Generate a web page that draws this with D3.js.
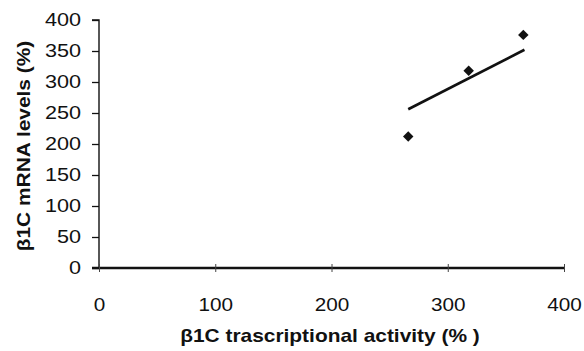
<!DOCTYPE html>
<html><head><meta charset="utf-8">
<script src="https://cdn.jsdelivr.net/npm/d3@7"></script>
<style>body{margin:0;background:#fff}svg{display:block}</style>
</head><body>
<svg id="c" width="584" height="351"></svg>
<script>
const xVals = [266, 318, 365];
const yVals = [212, 318, 376];
const trendX = [266, 366];
const trendY = [256, 352];
const xTicks = [0, 100, 200, 300, 400];
const yTicks = [0, 50, 100, 150, 200, 250, 300, 350, 400];
const xTitle = "β1C trascriptional activity (% )";
const yTitle = "β1C mRNA levels (%)";

const svg = d3.select("#c");
const x = d3.scaleLinear().domain([0, 400]).range([99, 564]);
const y = d3.scaleLinear().domain([0, 400]).range([268, 20]);
const font = "'Liberation Sans', Arial, sans-serif";

function stretch(sel, k) {
  sel.each(function() {
    const w = this.getComputedTextLength();
    d3.select(this).attr("textLength", w * k).attr("lengthAdjust", "spacingAndGlyphs");
  });
}

// y axis
const ya = svg.append("g").attr("transform", `translate(${x(0)},0)`)
  .call(d3.axisLeft(y).tickValues(yTicks).tickSize(7).tickPadding(11).tickFormat(d3.format("d")));
ya.select(".domain").attr("stroke", "#111").attr("stroke-width", 1.4).attr("d", `M-7,${y(400)}H0V${y(0)}`);
ya.selectAll(".tick line").attr("stroke", "#111").attr("stroke-width", 1.3);
ya.selectAll("text").attr("font-family", font).attr("font-size", 18).attr("fill", "#111").call(stretch, 1.2);

// x axis
const xa = svg.append("g").attr("transform", `translate(0,${y(0)})`)
  .call(d3.axisBottom(x).tickValues(xTicks).tickSize(4).tickPadding(26).tickFormat(d3.format("d")));
xa.select(".domain").attr("stroke", "#111").attr("stroke-width", 2.4).attr("d", `M92,0H${x(400)}`);
xa.selectAll(".tick line").attr("stroke", "#444").attr("stroke-width", 1).attr("y1", -4).attr("y2", 4);
xa.selectAll("text").attr("font-family", font).attr("font-size", 18).attr("fill", "#111").call(stretch, 1.15);

// trend line
svg.append("line")
  .attr("x1", x(trendX[0])).attr("y1", y(trendY[0]))
  .attr("x2", x(trendX[1])).attr("y2", y(trendY[1]))
  .attr("stroke", "#111").attr("stroke-width", 2.6);

// points
const sym = d3.symbol().type(d3.symbolDiamond2).size(70);
svg.selectAll("path.pt").data(xVals.map((v, i) => [v, yVals[i]])).enter()
  .append("path").attr("class", "pt")
  .attr("d", sym)
  .attr("transform", d => `translate(${x(d[0])},${y(d[1])})`)
  .attr("fill", "#111");

// titles
svg.append("text").attr("x", 330).attr("y", 342).attr("text-anchor", "middle")
  .attr("font-family", font).attr("font-weight", "bold").attr("font-size", 19).attr("fill", "#111")
  .text(xTitle).call(stretch, 1.1);
svg.append("text").attr("transform", "translate(30,146) rotate(-90)").attr("text-anchor", "middle")
  .attr("font-family", font).attr("font-weight", "bold").attr("font-size", 19).attr("fill", "#111")
  .text(yTitle).call(stretch, 1.1);
</script>
</body></html>
